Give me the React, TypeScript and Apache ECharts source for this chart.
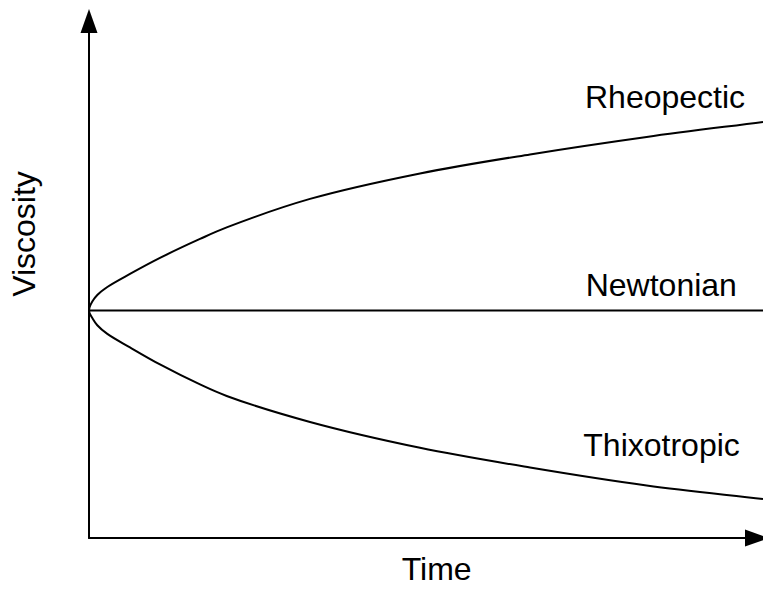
import React, { useEffect, useRef } from "react";
import * as echarts from "echarts";

// Time (x) and viscosity (y) readings for each curve
const curveTime = [0, 0.1, 0.49, 1.23, 2.72, 6.08, 10.53, 16.47, 20.43, 32.79, 49.11, 65.43, 82.74, 100];
const rheoVisc = [50, 50.75, 51.98, 53.41, 55.16, 58.02, 61.54, 65.71, 68.24, 74.51, 80.11, 84.29, 88.13, 91.43];
const thixVisc = [50, 49.38, 48.35, 46.75, 44.84, 41.87, 38.13, 33.74, 31.21, 25.49, 19.82, 15.49, 11.54, 8.57];

const newtTime = [0, 100];
const newtVisc = [50, 50];

const seriesNames = ["Rheopectic", "Newtonian", "Thixotropic"];
const xTitle = "Time";
const yTitle = "Viscosity";

const zip = (xs: number[], ys: number[]) => xs.map((x, i) => [x, ys[i]]);

// centripetal Catmull-Rom spline through pixel points, as SVG path data
function splinePath(pts: number[][]): string {
  const n = pts.length;
  const get = (i: number) => {
    if (i < 0) return [2 * pts[0][0] - pts[1][0], 2 * pts[0][1] - pts[1][1]];
    if (i >= n) return [2 * pts[n - 1][0] - pts[n - 2][0], 2 * pts[n - 1][1] - pts[n - 2][1]];
    return pts[i];
  };
  const dist = (a: number[], b: number[]) => Math.max(1e-6, Math.sqrt(Math.hypot(a[0] - b[0], a[1] - b[1])));
  let d = `M${pts[0][0]},${pts[0][1]}`;
  for (let i = 0; i < n - 1; i++) {
    const p0 = get(i - 1), p1 = get(i), p2 = get(i + 1), p3 = get(i + 2);
    const d1 = dist(p0, p1), d2 = dist(p1, p2), d3 = dist(p2, p3);
    const b1 = [0, 1].map(
      (k) => (d1 * d1 * p2[k] - d2 * d2 * p0[k] + (2 * d1 * d1 + 3 * d1 * d2 + d2 * d2) * p1[k]) / (3 * d1 * (d1 + d2))
    );
    const b2 = [0, 1].map(
      (k) => (d3 * d3 * p1[k] - d2 * d2 * p3[k] + (2 * d3 * d3 + 3 * d3 * d2 + d2 * d2) * p2[k]) / (3 * d3 * (d3 + d2))
    );
    d += ` C${b1[0]},${b1[1]} ${b2[0]},${b2[1]} ${p2[0]},${p2[1]}`;
  }
  return d;
}

function curveSeries(name: string, xs: number[], ys: number[]) {
  const data = zip(xs, ys);
  return {
    name,
    type: "custom",
    data,
    encode: { x: 0, y: 1 },
    renderItem: (params: any, api: any) => {
      if (params.dataIndex !== 0) return null;
      const pts = data.map((p) => api.coord(p));
      return {
        type: "path",
        shape: { pathData: splinePath(pts) },
        style: { stroke: "#000", lineWidth: 2, fill: "none" },
      };
    },
  };
}

export default function App() {
  const ref = useRef<HTMLDivElement>(null);
  useEffect(() => {
    const chart = echarts.init(ref.current!, null, { renderer: "svg" });
    const font = "32px 'Liberation Sans', Arial, Helvetica, sans-serif";
    const axisCommon = {
      type: "value",
      axisTick: { show: false },
      axisLabel: { show: false },
      splitLine: { show: false },
    };
    const label = (text: string, x: number, y: number, align: string, rotation = 0) => ({
      type: "text",
      x,
      y,
      rotation,
      style: { text, font, fill: "#000", textAlign: align, textVerticalAlign: "middle" },
    });
    chart.setOption({
      animation: false,
      backgroundColor: "#fff",
      grid: { left: 89, right: 0, top: 21, bottom: 52 },
      xAxis: {
        ...axisCommon,
        min: 0,
        max: 100,
        axisLine: {
          show: true,
          lineStyle: { color: "#000", width: 2 },
          symbol: ["none", "triangle"],
          symbolSize: [17, 24],
          symbolOffset: [0, -6],
        },
      },
      yAxis: {
        ...axisCommon,
        min: 0,
        max: 113.6,
        axisLine: {
          show: true,
          lineStyle: { color: "#000", width: 2 },
          symbol: ["none", "triangle"],
          symbolSize: [17, 24],
        },
      },
      series: [
        curveSeries(seriesNames[0], curveTime, rheoVisc),
        {
          name: seriesNames[1],
          type: "line",
          symbol: "none",
          data: zip(newtTime, newtVisc),
          lineStyle: { color: "#000", width: 2 },
        },
        curveSeries(seriesNames[2], curveTime, thixVisc),
      ],
      graphic: [
        label(seriesNames[0], 585, 96.6, "left"),
        label(seriesNames[1], 585.7, 284.9, "left"),
        label(seriesNames[2], 583.3, 444.9, "left"),
        label(xTitle, 436.7, 568.9, "center"),
        label(yTitle, 23.9, 234, "center", Math.PI / 2),
      ],
    });
    return () => chart.dispose();
  }, []);
  return (
    <div
      ref={ref}
      style={{ position: "fixed", left: 0, top: 0, width: 763, height: 590, background: "#fff" }}
    />
  );
}
